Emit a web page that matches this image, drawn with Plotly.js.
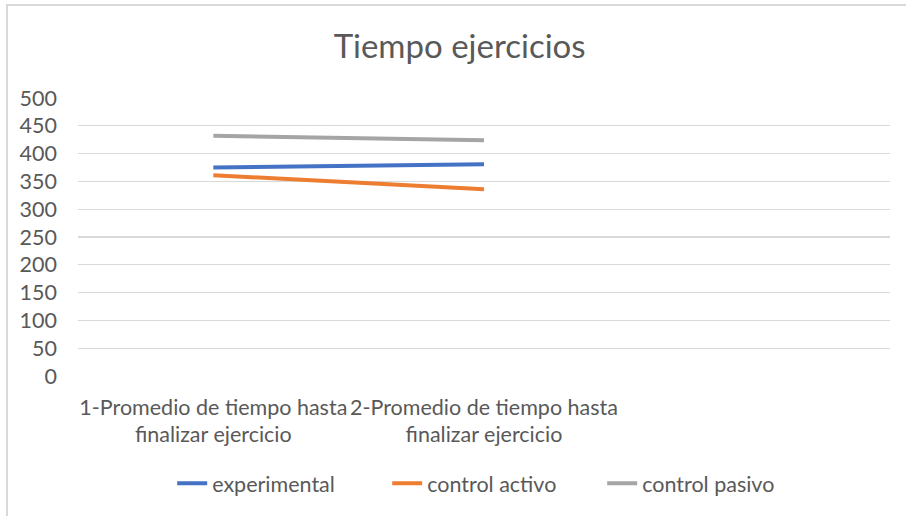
<!DOCTYPE html>
<html>
<head>
<meta charset="utf-8">
<script src="https://cdn.plot.ly/plotly-3.0.1.min.js"></script>
<style>
  html, body { margin: 0; padding: 0; background: #fff; }
  #chart { width: 906px; height: 516px; }
  #frame { position: absolute; left: 6px; top: 4px; width: 910px; height: 520px;
           border-left: 2px solid #d9d9d9; border-top: 2px solid #d9d9d9; pointer-events: none; }
</style>
</head>
<body>
<div id="chart"></div>
<div id="frame"></div>
<script>
const categories = [
  "1-Promedio de tiempo hasta<br>finalizar ejercicio",
  "2-Promedio de tiempo hasta<br>finalizar ejercicio",
  " "
];
const seriesNames = ["experimental", "control activo", "control pasivo"];
const experimental = [375, 381];
const controlActivo = [361, 336];
const controlPasivo = [432, 424];
const yTicks = [0, 50, 100, 150, 200, 250, 300, 350, 400, 450, 500];

const colors = ["#4472C4", "#ED7D31", "#A5A5A5"];
const values = [experimental, controlActivo, controlPasivo];
const FONT = "Lato, 'Open Sans', sans-serif";
const FS = 21.5;

const traces = values.map((v, i) => ({
  type: "scatter",
  mode: "lines",
  name: seriesNames[i],
  x: categories.slice(0, v.length),
  y: v,
  line: { color: colors[i], width: 4 },
  hoverinfo: "skip"
}));

const layout = {
  width: 906,
  height: 516,
  paper_bgcolor: "#ffffff",
  plot_bgcolor: "#ffffff",
  margin: { l: 78, r: 16, t: 98, b: 137 },
  title: {
    text: "Tiempo ejercicios",
    font: { family: FONT, size: 33, color: "#595959" },
    x: 0.47,
    xanchor: "center",
    xref: "paper",
    y: 0.91,
    yanchor: "middle",
    yref: "container"
  },
  xaxis: {
    type: "category",
    categoryorder: "array",
    categoryarray: categories,
    range: [-0.5, 2.5],
    showgrid: false,
    zeroline: false,
    showline: false,
    ticks: "",
    ticklabelstandoff: 16,
    tickfont: { family: FONT, size: FS, color: "#595959" },
    fixedrange: true
  },
  yaxis: {
    range: [0, 500],
    tickvals: yTicks,
    ticktext: yTicks.map(String),
    showgrid: true,
    gridcolor: "#d9d9d9",
    gridwidth: 1.3,
    zeroline: false,
    showline: false,
    ticks: "",
    ticklabelstandoff: 20,
    tickfont: { family: FONT, size: FS, color: "#595959" },
    fixedrange: true
  },
  showlegend: true,
  legend: {
    orientation: "h",
    x: 0.116,
    xanchor: "left",
    y: -0.386,
    yanchor: "middle",
    font: { family: FONT, size: FS, color: "#595959" },
    itemwidth: 30,
    entrywidth: 170,
    bgcolor: "rgba(0,0,0,0)"
  }
};

Plotly.newPlot("chart", traces, layout, { displayModeBar: false, staticPlot: true });
</script>
</body>
</html>
